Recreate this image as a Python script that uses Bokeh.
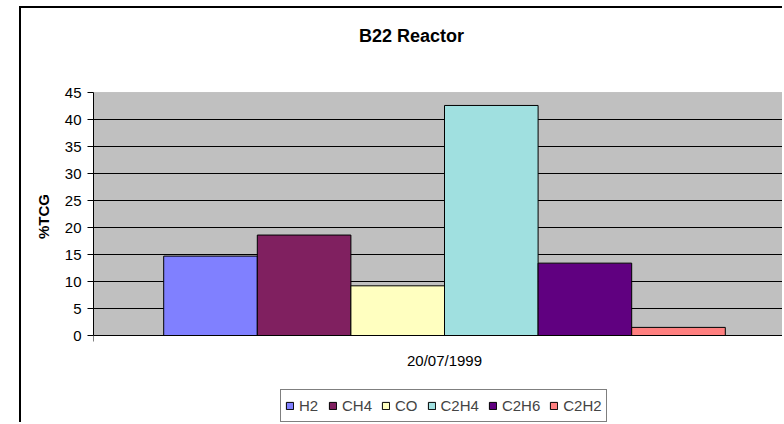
from bokeh.plotting import figure
from bokeh.models import (Range1d, FixedTicker, ColumnDataSource, Legend,
                          LegendItem, BoxAnnotation, Label)
from bokeh.transform import dodge
from bokeh.embed import file_html
from bokeh.resources import INLINE

# ---- data ----
gases = ["H2", "CH4", "CO", "C2H4", "C2H6", "C2H2"]
values = [14.7, 18.6, 9.2, 42.6, 13.4, 1.5]
colors = ["#8080FF", "#802060", "#FFFFC0", "#A0E0E0", "#600080", "#FF8080"]
category = "20/07/1999"
title_text = "B22 Reactor"
y_label = "%TCG"
y_ticks = [0, 5, 10, 15, 20, 25, 30, 35, 40, 45]
y_max = 45

FONT = "Liberation Sans"
W, H = 763, 416                   # canvas size
FL = 72                           # left panel width (axis)
AREA_TOP, AREA_BOT = 84, 327      # gray plot-area top/bottom inside canvas
cat_px = 702.0                    # pixel width of one category
px_per_unit = (AREA_BOT - AREA_TOP) / y_max
x_end = (W - FL) / cat_px
y_top = y_max + AREA_TOP / px_per_unit
y_bot = -(H - AREA_BOT) / px_per_unit

p = figure(width=W, height=H, output_backend="svg", toolbar_location=None,
           x_range=Range1d(0, x_end), y_range=Range1d(y_bot, y_top),
           min_border_left=FL, min_border_right=0, min_border_top=0,
           min_border_bottom=0)
p.margin = (6, 0, 0, 19)
p.styles = {"border-left": "2px solid #000", "border-top": "2px solid #000"}

p.background_fill_color = "white"
p.border_fill_color = "white"
p.outline_line_color = None

# gray plot area (one category wide, 0..45)
area = BoxAnnotation(left=0, right=1, bottom=0, top=y_max,
                     fill_color="#C0C0C0", fill_alpha=1,
                     line_color="#808080", line_width=1, level="image")
p.add_layout(area)

gap = 1.5
bw = 1.0 / (len(gases) + gap)
items = []
for i, (g, v, c) in enumerate(zip(gases, values, colors)):
    off = -0.5 + gap * bw / 2 + bw * (i + 0.5)
    s = ColumnDataSource(dict(x=[0.5], top=[v]))
    r = p.vbar(x=dodge("x", off), top="top", bottom=0, width=bw, source=s,
               fill_color=c, line_color="black", line_width=1)
    items.append(LegendItem(label=g, renderers=[r]))

# grid
p.xgrid.visible = False
p.ygrid.ticker = FixedTicker(ticks=y_ticks[1:-1])
p.ygrid.grid_line_color = "black"
p.ygrid.grid_line_width = 1

# y axis
p.yaxis.bounds = (0, y_max)
p.yaxis.ticker = FixedTicker(ticks=y_ticks)
p.yaxis.axis_label = y_label
p.yaxis.axis_label_text_font = FONT
p.yaxis.axis_label_text_font_style = "bold"
p.yaxis.axis_label_text_font_size = "15px"
p.yaxis.axis_label_text_color = "black"
p.yaxis.axis_label_standoff = 10
p.yaxis.major_label_text_font = FONT
p.yaxis.major_label_text_font_size = "15px"
p.yaxis.major_label_text_color = "black"
p.yaxis.major_tick_out = 6
p.yaxis.major_tick_in = 0
p.yaxis.minor_tick_line_color = None
p.yaxis.major_label_standoff = 6
p.yaxis.axis_line_color = "black"
p.yaxis.major_tick_line_color = "black"

# x axis, pinned at y = 0
p.xaxis.fixed_location = 0
p.xaxis.ticker = FixedTicker(ticks=[0.5], minor_ticks=[0, 1])
p.xaxis.major_label_overrides = {0.5: category}
p.xaxis.major_tick_out = 0
p.xaxis.major_tick_in = 0
p.xaxis.minor_tick_out = 6
p.xaxis.minor_tick_in = 0
p.xaxis.minor_tick_line_color = "black"
p.xaxis.major_label_text_font = FONT
p.xaxis.major_label_text_font_size = "15px"
p.xaxis.major_label_text_color = "black"
p.xaxis.major_label_standoff = 10
p.xaxis.axis_line_color = "black"

# title
p.add_layout(Label(x=318, y=H - 27, x_units="screen", y_units="screen",
                   text=title_text, text_font=FONT, text_font_size="18px",
                   text_font_style="bold", text_color="black",
                   text_align="center", text_baseline="middle"))

legend = Legend(items=items, orientation="horizontal", location=(187, 2),
                glyph_width=9, glyph_height=9, label_standoff=5, spacing=9,
                padding=4, label_height=23, margin=0,
                border_line_color="black", border_line_width=1,
                label_text_font=FONT, label_text_font_size="15px",
                background_fill_color="white", background_fill_alpha=1)
p.add_layout(legend, "center")

open("out.html", "w").write(file_html(p, INLINE))
